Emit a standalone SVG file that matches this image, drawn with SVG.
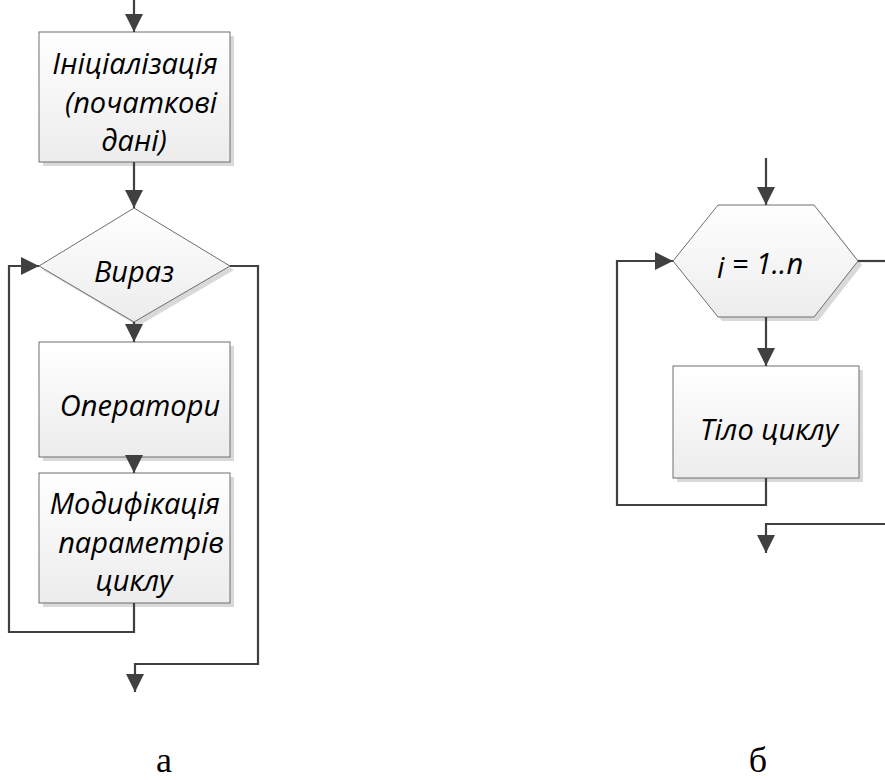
<svg xmlns="http://www.w3.org/2000/svg" width="885" height="780" viewBox="0 0 885 780">
<style>
.sh{fill:#d9d9d9;stroke:none}
.nd{fill:url(#g);stroke:#6e6e6e;stroke-width:1}
.t{font-family:"Open Sans",Lato,sans-serif;font-style:italic;font-size:29px;fill:#000;text-anchor:middle}
.c{fill:none;stroke:#404040;stroke-width:2.2}
.lb{font-family:"Liberation Serif","Times New Roman",serif;font-size:36px;fill:#000;text-anchor:middle}
</style>
<defs>
<linearGradient id="g" x1="0" y1="0" x2="0" y2="1">
<stop offset="0" stop-color="#ffffff"/>
<stop offset="1" stop-color="#ececec"/>
</linearGradient>
<marker id="ah" markerUnits="userSpaceOnUse" markerWidth="18" markerHeight="18" refX="18" refY="9" orient="auto" viewBox="0 0 18 18">
<path d="M0,0 L18,9 L0,18 z" fill="#404040"/>
</marker>
</defs>
<rect width="885" height="780" fill="#fff"/>

<g id="init">
<rect class="sh" x="43" y="36" width="191" height="130"/>
<rect class="nd" x="39" y="32" width="191" height="130"/>
<text class="t" x="135" y="74">Ініціалізація</text>
<text class="t" x="141" y="113">(початкові</text>
<text class="t" x="134" y="151">дані)</text>
</g>

<g id="cond">
<polygon class="sh" points="138,212 234,270 138,326 43,270"/>
<polygon class="nd" points="134,208 230,266 134,322 39,266"/>
<text class="t" x="134" y="282">Вираз</text>
</g>

<g id="ops">
<rect class="sh" x="43" y="346" width="191" height="115"/>
<rect class="nd" x="39" y="342" width="191" height="115"/>
<text class="t" x="140" y="416">Оператори</text>
</g>

<g id="mod">
<rect class="sh" x="43" y="477" width="191" height="130"/>
<rect class="nd" x="39" y="473" width="191" height="130"/>
<text class="t" x="135" y="514">Модифікація</text>
<text class="t" x="141" y="553">параметрів</text>
<text class="t" x="134" y="591">циклу</text>
</g>

<g id="loop">
<polygon class="sh" points="722,209 818,209 862,265 818,321 722,321 677,265"/>
<polygon class="nd" points="718,205 814,205 858,261 814,317 718,317 673,261"/>
<text class="t" x="760" y="274"><tspan dy="4">i</tspan><tspan dy="-4"> = 1..n</tspan></text>
</g>

<g id="body">
<rect class="sh" x="677" y="370" width="186" height="112"/>
<rect class="nd" x="673" y="366" width="186" height="112"/>
<text class="t" x="769" y="440">Тіло циклу</text>
</g>

<g id="connectors">
<path class="c" d="M134,0 V32" marker-end="url(#ah)"/>
<path class="c" d="M134,162 V208" marker-end="url(#ah)"/>
<path class="c" d="M134,322 V342" marker-end="url(#ah)"/>
<path class="c" d="M134,457 V473" marker-end="url(#ah)"/>
<path class="c" d="M134,603 V632 H9 V266 H39" marker-end="url(#ah)"/>
<path class="c" d="M230,266 H258 V664 H135 V692" marker-end="url(#ah)"/>
<path class="c" d="M766,158 V205" marker-end="url(#ah)"/>
<path class="c" d="M766,317 V366" marker-end="url(#ah)"/>
<path class="c" d="M766,478 V505 H617 V261 H673" marker-end="url(#ah)"/>
<path class="c" d="M858,261 H886"/>
<path class="c" d="M886,524 H766 V553" marker-end="url(#ah)"/>
</g>

<text class="lb" x="164" y="772">а</text>
<text class="lb" x="758" y="772">б</text>
</svg>
